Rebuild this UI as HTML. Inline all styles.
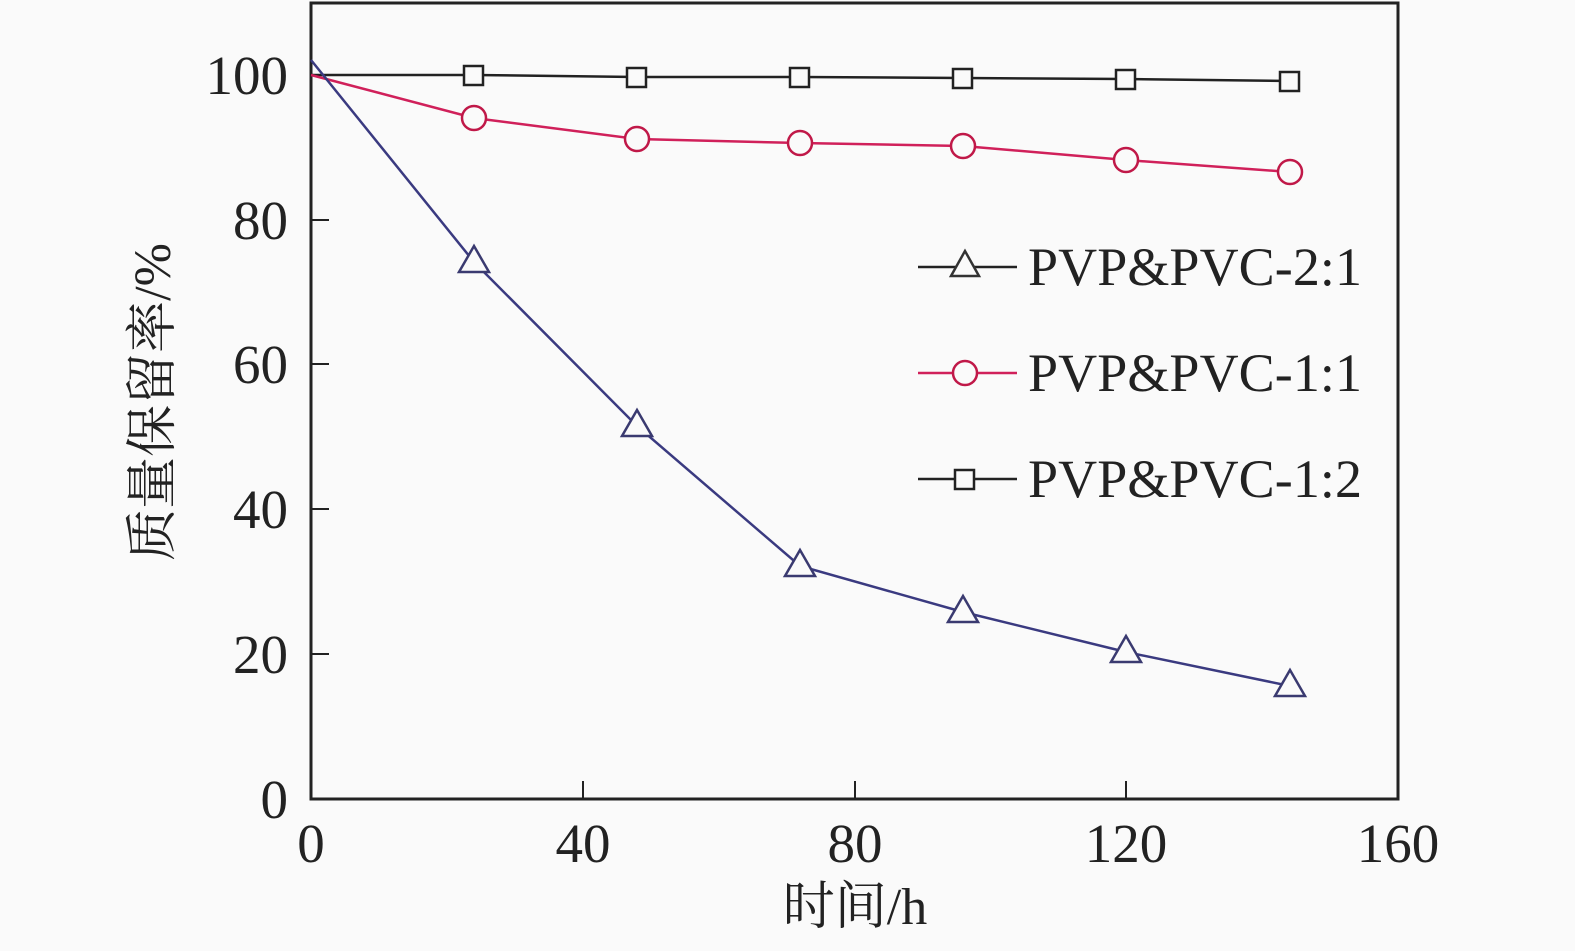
<!DOCTYPE html>
<html><head><meta charset="utf-8"><style>html,body{margin:0;padding:0;background:#fafafa}</style></head>
<body>
<svg width="1575" height="946" xmlns="http://www.w3.org/2000/svg" font-family="Liberation Serif, 'Noto Serif CJK SC', serif" fill="#222">
<rect width="1575" height="946" fill="#fafafa"/>
<rect x="311" y="3" width="1087" height="796" fill="none" stroke="#222" stroke-width="3"/>
<g stroke="#222" stroke-width="2">
<line x1="583" y1="799" x2="583" y2="781"/><line x1="855" y1="799" x2="855" y2="781"/><line x1="1126" y1="799" x2="1126" y2="781"/>
<line x1="311" y1="654" x2="329" y2="654"/><line x1="311" y1="509" x2="329" y2="509"/><line x1="311" y1="364" x2="329" y2="364"/><line x1="311" y1="220" x2="329" y2="220"/><line x1="311" y1="75" x2="329" y2="75"/>
</g>
<g font-size="55" text-anchor="end">
<text x="288" y="818">0</text><text x="288" y="673">20</text><text x="288" y="528">40</text><text x="288" y="383">60</text><text x="288" y="239">80</text><text x="288" y="94">100</text>
</g>
<g font-size="55" text-anchor="middle">
<text x="311" y="862">0</text><text x="583" y="862">40</text><text x="855" y="862">80</text><text x="1126" y="862">120</text><text x="1398" y="862">160</text>
<text x="855" y="924" font-size="52">时间/h</text>
</g>
<text font-size="52" text-anchor="middle" transform="translate(170,402) rotate(-90)">质量保留率/%</text>
<g fill="none" stroke-width="2.5">
<polyline stroke="#222" points="311,75 474,75 637,77 800,77 963,78 1126,79 1290,81"/>
<polyline stroke="#d0205a" points="311,75 474,118 637,139 800,143 963,146 1126,160 1290,172"/>
<polyline stroke="#3a3a80" points="311,60 474,262 637,426 800,566 963,612 1126,652 1290,686"/>
</g>
<g fill="#fafafa" stroke="#222" stroke-width="2.5">
<rect x="464" y="66" width="19" height="19"/><rect x="627" y="68" width="19" height="19"/><rect x="790" y="68" width="19" height="19"/><rect x="953" y="69" width="19" height="19"/><rect x="1116" y="70" width="19" height="19"/><rect x="1280" y="72" width="19" height="19"/>
</g>
<g fill="#fafafa" stroke="#c01848" stroke-width="2.5">
<circle cx="474" cy="118" r="12"/><circle cx="637" cy="139" r="12"/><circle cx="800" cy="143" r="12"/><circle cx="963" cy="146" r="12"/><circle cx="1126" cy="160" r="12"/><circle cx="1290" cy="172" r="12"/>
</g>
<g fill="#fafafa" stroke="#3a3a70" stroke-width="2.5">
<polygon points="474,246 459,272 489,272"/><polygon points="637,410 622,436 652,436"/><polygon points="800,550 785,576 815,576"/><polygon points="963,596 948,622 978,622"/><polygon points="1126,636 1111,662 1141,662"/><polygon points="1290,670 1275,696 1305,696"/>
</g>
<line x1="918" y1="267" x2="1017" y2="267" stroke="#222" stroke-width="2.5"/>
<polygon points="965,251 951,276 979,276" fill="#fafafa" stroke="#333" stroke-width="2.5"/>
<line x1="918" y1="373" x2="1017" y2="373" stroke="#d0205a" stroke-width="2.5"/>
<circle cx="965" cy="373" r="12" fill="#fafafa" stroke="#c01848" stroke-width="2.5"/>
<line x1="918" y1="479" x2="1017" y2="479" stroke="#222" stroke-width="2.5"/>
<rect x="955" y="470" width="19" height="19" fill="#fafafa" stroke="#222" stroke-width="2.5"/>
<g font-size="48" textLength="334">
<text x="1028" y="285" textLength="334" font-size="54">PVP&amp;PVC-2:1</text>
<text x="1028" y="391" textLength="334" font-size="54">PVP&amp;PVC-1:1</text>
<text x="1028" y="497" textLength="334" font-size="54">PVP&amp;PVC-1:2</text>
</g>
</svg>
</body></html>
